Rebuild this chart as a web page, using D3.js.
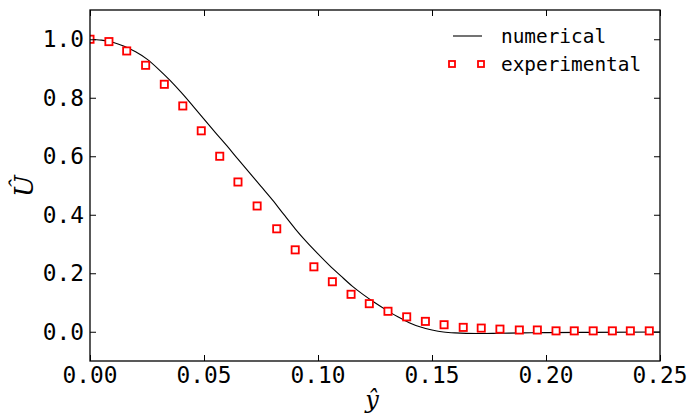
<!DOCTYPE html>
<html>
<head>
<meta charset="utf-8">
<script src="https://cdn.jsdelivr.net/npm/d3@7"></script>
<style>
  html, body { margin: 0; padding: 0; background: #fff; }
  svg { display: block; }
  .tick-label { font-family: "DejaVu Sans Mono", monospace; font-size: 22.8px; fill: #000; }
  .legend-label { font-family: "DejaVu Sans Mono", monospace; font-size: 19.4px; fill: #000; }
  .math { font-family: "DejaVu Serif", "Liberation Serif", serif; font-style: italic; fill: #000; }
</style>
</head>
<body>
<svg id="chart" width="688" height="415"></svg>
<script>
// Numerical velocity profile (y-hat, U-hat)
const numY = [0, 0.005, 0.01, 0.015, 0.02, 0.025, 0.03, 0.035, 0.04, 0.045, 0.05, 0.055, 0.06, 0.065, 0.07, 0.075, 0.08, 0.085, 0.09, 0.095, 0.10, 0.105, 0.11, 0.115, 0.12, 0.125, 0.13, 0.135, 0.14, 0.145, 0.15, 0.155, 0.16, 0.17, 0.18, 0.19, 0.20, 0.22, 0.25];
const numU = [1.0, 0.997, 0.99, 0.976, 0.957, 0.932, 0.898, 0.86, 0.818, 0.773, 0.727, 0.681, 0.636, 0.589, 0.543, 0.497, 0.451, 0.401, 0.352, 0.307, 0.266, 0.227, 0.191, 0.156, 0.126, 0.099, 0.074, 0.051, 0.031, 0.016, 0.006, -0.001, -0.004, -0.006, -0.005, -0.004, -0.003, -0.002, -0.001];

// Experimental measurements
const expY = [0, 0.0083, 0.0161, 0.0244, 0.0326, 0.0407, 0.0488, 0.0569, 0.0649, 0.0733, 0.0819, 0.0900, 0.0982, 0.1063, 0.1145, 0.1225, 0.1307, 0.1389, 0.1471, 0.1553, 0.1637, 0.1716, 0.1798, 0.1883, 0.1962, 0.2044, 0.2124, 0.2207, 0.2291, 0.2370, 0.2453];
const expU = [1.0, 0.992, 0.96, 0.911, 0.846, 0.772, 0.687, 0.600, 0.512, 0.43, 0.352, 0.280, 0.222, 0.171, 0.128, 0.096, 0.070, 0.051, 0.0355, 0.024, 0.015, 0.0125, 0.009, 0.006, 0.006, 0.003, 0.003, 0.003, 0.003, 0.003, 0.003];

const xTicks = [0.00, 0.05, 0.10, 0.15, 0.20, 0.25];
const yTicks = [0.0, 0.2, 0.4, 0.6, 0.8, 1.0];
const seriesNames = ["numerical", "experimental"];

const plot = { left: 90, top: 10, right: 660, bottom: 361 };
const svg = d3.select("#chart");

const x = d3.scaleLinear().domain([0, 0.25]).range([plot.left, plot.right]);
const y = d3.scaleLinear().domain([-0.1, 1.1]).range([plot.bottom, plot.top]);

const tickLen = 6;

// clip marks to the axes box
svg.append("clipPath").attr("id", "clip")
  .append("rect")
  .attr("x", plot.left).attr("y", plot.top)
  .attr("width", plot.right - plot.left).attr("height", plot.bottom - plot.top);

// numerical curve
const line = d3.line()
  .x((d, i) => x(numY[i]))
  .y((d, i) => y(numU[i]))
  .curve(d3.curveMonotoneX);

svg.append("path")
  .datum(numU)
  .attr("d", line)
  .attr("fill", "none")
  .attr("stroke", "#000")
  .attr("stroke-width", 1.1)
  .attr("clip-path", "url(#clip)");

// experimental squares
const ms = 7.2;
svg.append("g")
  .attr("clip-path", "url(#clip)")
  .selectAll("rect")
  .data(expU)
  .join("rect")
  .attr("x", (d, i) => x(expY[i]) - ms / 2)
  .attr("y", d => y(d) - ms / 2)
  .attr("width", ms).attr("height", ms)
  .attr("fill", "#fff")
  .attr("stroke", "#f00")
  .attr("stroke-width", 1.8);

// axes frame with inward ticks on all four sides
const axisG = svg.append("g");
const bottomAxis = d3.axisBottom(x).tickValues(xTicks).tickSize(-tickLen).tickFormat("");
const topAxis = d3.axisTop(x).tickValues(xTicks).tickSize(-tickLen).tickFormat("");
const leftAxis = d3.axisLeft(y).tickValues(yTicks).tickSize(-tickLen).tickFormat("");
const rightAxis = d3.axisRight(y).tickValues(yTicks).tickSize(-tickLen).tickFormat("");

[[bottomAxis, `translate(0,${plot.bottom})`],
 [topAxis, `translate(0,${plot.top})`],
 [leftAxis, `translate(${plot.left},0)`],
 [rightAxis, `translate(${plot.right},0)`]].forEach(([ax, tr]) => {
  const g = axisG.append("g").attr("transform", tr).call(ax);
  g.select(".domain").remove();
  g.selectAll(".tick line").attr("stroke", "#000").attr("stroke-width", 1);
});

axisG.append("rect")
  .attr("x", plot.left).attr("y", plot.top)
  .attr("width", plot.right - plot.left).attr("height", plot.bottom - plot.top)
  .attr("fill", "none").attr("stroke", "#000").attr("stroke-width", 1.3);

// tick labels
svg.append("g").selectAll("text")
  .data(xTicks)
  .join("text")
  .attr("class", "tick-label")
  .attr("x", d => x(d))
  .attr("y", 383)
  .attr("text-anchor", "middle")
  .text(d3.format(".2f"));

svg.append("g").selectAll("text")
  .data(yTicks)
  .join("text")
  .attr("class", "tick-label")
  .attr("x", 84)
  .attr("y", d => y(d))
  .attr("dy", "0.36em")
  .attr("text-anchor", "end")
  .text(d3.format(".1f"));

// axis titles
svg.append("text")
  .attr("class", "math")
  .attr("transform", "translate(33,186) rotate(-90)")
  .attr("text-anchor", "middle")
  .attr("font-size", 26)
  .text("\u00db");

svg.append("text")
  .attr("class", "math")
  .attr("x", 372).attr("y", 408)
  .attr("text-anchor", "middle")
  .attr("font-size", 24)
  .text("y\u0302");

// legend
const lg = svg.append("g");
lg.append("line")
  .attr("x1", 453).attr("x2", 482)
  .attr("y1", 36).attr("y2", 36)
  .attr("stroke", "#000").attr("stroke-width", 1.1);
[452, 481].forEach(cx => {
  lg.append("rect")
    .attr("x", cx - 3).attr("y", 64 - 3)
    .attr("width", 6).attr("height", 6)
    .attr("fill", "#fff").attr("stroke", "#f00").attr("stroke-width", 1.8);
});
lg.selectAll("text")
  .data(seriesNames)
  .join("text")
  .attr("class", "legend-label")
  .attr("x", 501)
  .attr("y", (d, i) => 36 + i * 28)
  .attr("dy", "0.36em")
  .text(d => d);
</script>
</body>
</html>
